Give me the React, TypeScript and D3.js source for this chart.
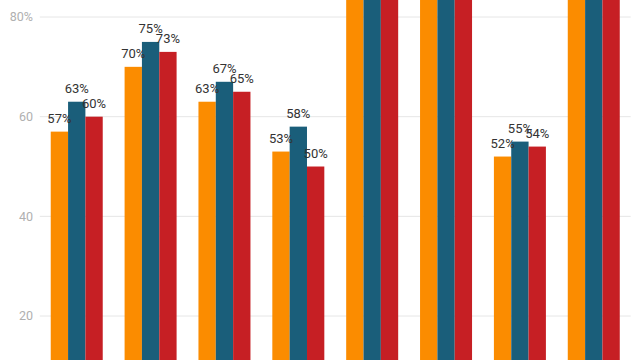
import React from "react";
import * as d3 from "d3";

const categories = ["A", "B", "C", "D", "E", "F", "G", "H"];
const seriesNames = ["s1", "s2", "s3"];
const series1 = [57, 70, 63, 53, 88, 90, 52, 89];
const series2 = [63, 75, 67, 58, 92, 94, 55, 93];
const series3 = [60, 73, 65, 50, 90, 91, 54, 90];
const colors = ["#fb8c00", "#1a5e7a", "#c61f24"];
const yTicks = [0, 20, 40, 60, 80];

const W = 640;
const H = 360;

export default function App() {
  const seriesValues = [series1, series2, series3];
  const x0 = d3
    .scaleBand<string>()
    .domain(categories)
    .range([39.8, 630.7])
    .paddingInner(0.296)
    .paddingOuter(0.148);
  const x1 = d3
    .scaleBand<string>()
    .domain(seriesNames)
    .range([0, x0.bandwidth()]);
  const y = d3.scaleLinear().domain([0, 80]).range([415.7, 17]);
  const font = "Roboto, 'Noto Sans', sans-serif";

  return (
    <div style={{ position: "fixed", left: 0, top: 0 }}>
      <svg width={W} height={H} style={{ display: "block", background: "#fff" }}>
        <g>
          {yTicks.map((t) => (
            <g key={t}>
              <line
                x1={x0.range()[0]}
                x2={x0.range()[1]}
                y1={y(t)}
                y2={y(t)}
                stroke="#e6e6e6"
                strokeWidth={1}
              />
              <text
                x={33}
                y={y(t)}
                dy="0.35em"
                textAnchor="end"
                fontFamily={font}
                fontSize={12.5}
                fill="#b0b0b0"
              >
                {t === 80 ? `${t}%` : `${t}`}
              </text>
            </g>
          ))}
        </g>
        <g>
          {categories.map((c, i) => (
            <g key={c} transform={`translate(${x0(c)},0)`}>
              {seriesNames.map((s, j) => {
                const v = seriesValues[j][i];
                return (
                  <rect
                    key={s}
                    x={x1(s)}
                    y={y(v)}
                    width={x1.bandwidth()}
                    height={y(0) - y(v)}
                    fill={colors[j]}
                  />
                );
              })}
            </g>
          ))}
        </g>
        <g>
          {categories.map((c, i) => (
            <g key={c} transform={`translate(${x0(c)},0)`}>
              {seriesNames.map((s, j) => {
                const v = seriesValues[j][i];
                return (
                  <text
                    key={s}
                    x={(x1(s) as number) + x1.bandwidth() / 2}
                    y={y(v) - 8.5}
                    textAnchor="middle"
                    fontFamily={font}
                    fontSize={13}
                    fill="#333"
                  >
                    {`${v}%`}
                  </text>
                );
              })}
            </g>
          ))}
        </g>
      </svg>
    </div>
  );
}
